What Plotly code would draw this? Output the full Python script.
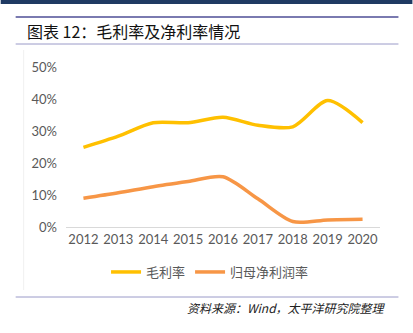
import plotly.graph_objects as go

years = ["2012", "2013", "2014", "2015", "2016", "2017", "2018", "2019", "2020"]
gross_margin = [0.249, 0.284, 0.326, 0.326, 0.343, 0.318, 0.313, 0.395, 0.326]
net_margin = [0.090, 0.107, 0.126, 0.142, 0.157, 0.088, 0.017, 0.022, 0.024]
y_ticks = [0, 0.1, 0.2, 0.3, 0.4, 0.5]
y_tick_labels = ["0%", "10%", "20%", "30%", "40%", "50%"]

W, H = 413, 333
L, R, T, B = 65.5, 32.5, 67, 106
PW, PH = W - L - R, H - T - B

def px(x):
    return (x - L) / PW

def py(y):
    return (H - B - y) / PH

fig = go.Figure()
fig.add_trace(go.Scatter(x=years, y=gross_margin, name="毛利率", mode="lines",
                         line=dict(color="#FFC000", width=3.5, shape="spline", smoothing=0.8)))
fig.add_trace(go.Scatter(x=years, y=net_margin, name="归母净利润率", mode="lines",
                         line=dict(color="#F79646", width=3.5, shape="spline", smoothing=0.8)))

shapes = [
    dict(type="rect", xref="paper", yref="paper", x0=px(0), x1=px(W), y0=py(0), y1=py(4),
         fillcolor="#1F3A63", line=dict(width=0), layer="above"),
    dict(type="line", xref="paper", yref="paper", x0=px(15), x1=px(399), y0=py(17), y1=py(17),
         line=dict(color="#7A7AB0", width=2)),
    dict(type="line", xref="paper", yref="paper", x0=px(15), x1=px(399), y0=py(44), y1=py(44),
         line=dict(color="#9A9AC8", width=1)),
    dict(type="line", xref="paper", yref="paper", x0=px(23), x1=px(23), y0=py(50), y1=py(290),
         line=dict(color="#F0F0F0", width=1)),
    dict(type="line", xref="paper", yref="paper", x0=px(15), x1=px(399), y0=py(297), y1=py(297),
         line=dict(color="#9A9AC8", width=1)),
]

annotations = [
    dict(text="图表 12：毛利率及净利率情况", xref="paper", yref="paper", x=px(24), y=py(31),
         xanchor="left", yanchor="middle", showarrow=False,
         font=dict(size=16, color="#111111", family="Noto Sans CJK SC")),
    dict(text="<i>资料来源：Wind，太平洋研究院整理</i>", xref="paper", yref="paper", x=px(389), y=py(307),
         xanchor="right", yanchor="middle", showarrow=False,
         font=dict(size=12, color="#222222", family="Noto Sans CJK SC")),
]

fig.update_layout(
    width=W, height=H,
    margin=dict(l=L, r=R, t=T, b=B, pad=0),
    paper_bgcolor="white", plot_bgcolor="white",
    font=dict(family="Noto Sans CJK SC, Lato, sans-serif", color="#595959", size=12),
    shapes=shapes, annotations=annotations,
    showlegend=True,
    legend=dict(orientation="h", x=px(210), xanchor="center", y=py(272), yanchor="middle",
                font=dict(size=13, color="#595959"), bgcolor="rgba(0,0,0,0)", itemwidth=30,
                traceorder="normal"),
    xaxis=dict(type="category", range=[-0.5, 8.5], showgrid=False, zeroline=False,
               showline=True, linecolor="#D9D9D9", linewidth=1, ticks="",
               tickfont=dict(family="Lato, sans-serif", size=13, color="#595959")),
    yaxis=dict(range=[0, 0.5], tickvals=y_ticks, ticktext=y_tick_labels, showgrid=False,
               zeroline=False, showline=False, ticks="", ticklabelstandoff=8,
               tickfont=dict(family="Lato, sans-serif", size=13, color="#595959")),
)

fig.write_html("out.html")
